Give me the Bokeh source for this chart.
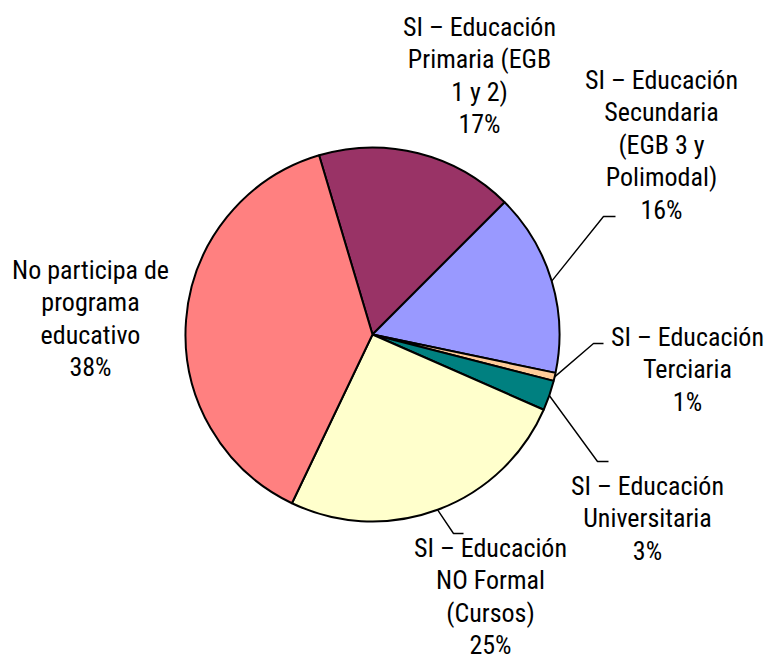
import numpy as np
from bokeh.plotting import figure
from bokeh.models import Range1d, ColumnDataSource
from bokeh.core.properties import value
from bokeh.embed import file_html
from bokeh.resources import INLINE

# ---- data ----
categories = [
    "SI – Educación Primaria (EGB 1 y 2)",
    "SI – Educación Secundaria (EGB 3 y Polimodal)",
    "SI – Educación Terciaria",
    "SI – Educación Universitaria",
    "SI – Educación NO Formal (Cursos)",
    "No participa de programa educativo",
]
values = [17.1, 15.8, 0.7, 2.6, 25.5, 38.3]
pct_labels = ["17%", "16%", "1%", "3%", "25%", "38%"]
label_lines = [
    ["SI – Educación", "Primaria (EGB", "1 y 2)"],
    ["SI – Educación", "Secundaria", "(EGB 3 y", "Polimodal)"],
    ["SI – Educación", "Terciaria"],
    ["SI – Educación", "Universitaria"],
    ["SI – Educación", "NO Formal", "(Cursos)"],
    ["No participa de", "programa", "educativo"],
]
colors = ["#993366", "#9999FF", "#FFCC99", "#008080", "#FFFFCC", "#FF8080"]

# ---- layout (page pixel coordinates) ----
W, H = 765, 662
PAGE_H = H
def Y(page_y):
    return PAGE_H - page_y

cx, cy, R = 372, Y(334), 187
start_deg = 106.6
label_anchor = [(479, 26), (661, 79), (687, 336), (647, 485), (490, 547), (90, 269)]
line_step = 32.5
leader_elbow = {1: [(603, 216), (615, 216)],
                2: [(593, 343), (603, 343)],
                3: [(597, 461), (608, 461)],
                4: [(453, 533), (463, 533)]}
FONT = value("Roboto Condensed")
FSIZE = "26px"

# ---- angles ----
total = sum(values)
starts, ends, mids = [], [], []
acc = 0.0
for v in values:
    s = start_deg - acc / total * 360.0
    e = s - v / total * 360.0
    starts.append(np.radians(s)); ends.append(np.radians(e)); mids.append(np.radians((s + e) / 2))
    acc += v

src = ColumnDataSource(dict(cat=categories, val=values, start=starts, end=ends, color=colors))

p = figure(width=W, height=H, x_range=Range1d(0, W), y_range=Range1d(0, H),
           output_backend="svg", toolbar_location=None, min_border=0)
p.axis.visible = False
p.grid.visible = False
p.outline_line_color = None
p.background_fill_color = "white"

p.wedge(x=cx, y=cy, radius=R, start_angle="start", end_angle="end", direction="clock",
        fill_color="color", line_color="black", line_width=2, source=src)

# leader lines
xs, ys = [], []
for i, pts in leader_elbow.items():
    x0 = cx + R * np.cos(mids[i]); y0 = cy + R * np.sin(mids[i])
    xs.append([x0] + [q[0] for q in pts])
    ys.append([y0] + [Y(q[1]) for q in pts])
p.multi_line(xs=xs, ys=ys, line_color="black", line_width=1.4)

# labels
tx, ty, tt = [], [], []
for i, lines in enumerate(label_lines):
    ax, ay = label_anchor[i]
    for j, ln in enumerate(lines + [pct_labels[i]]):
        tx.append(ax); ty.append(Y(ay + j * line_step)); tt.append(ln)
p.text(x=tx, y=ty, text=tt, text_font=FONT, text_font_size=FSIZE, text_color="black",
       text_align="center", text_baseline="alphabetic")

open("out.html", "w").write(file_html(p, INLINE))
